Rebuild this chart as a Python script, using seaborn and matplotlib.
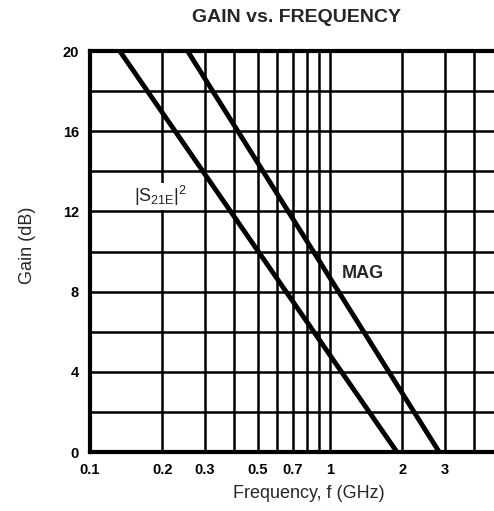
import matplotlib
matplotlib.use("Agg")
import matplotlib.pyplot as plt
from matplotlib.ticker import FixedLocator, FixedFormatter, NullFormatter
import seaborn as sns
import pandas as pd

# values (straight lines on log frequency axis)
s21_freq = [0.133, 1.9]
s21_gain = [20, 0]
mag_freq = [0.255, 2.85]
mag_gain = [20, 0]

x_tick_values = [0.1, 0.2, 0.3, 0.5, 0.7, 1, 2, 3, 5]
x_tick_labels = ["0.1", "0.2", "0.3", "0.5", "0.7", "1", "2", "3", "5"]
x_grid_values = [0.1, 0.2, 0.3, 0.4, 0.5, 0.6, 0.7, 0.8, 0.9,
                 1, 2, 3, 4, 5, 6, 7, 8, 9, 10]
y_tick_values = [0, 4, 8, 12, 16, 20]
y_grid_values = [0, 2, 4, 6, 8, 10, 12, 14, 16, 18, 20]

sns.set_style("white")
plt.rcParams['font.family'] = ['Liberation Sans', 'DejaVu Sans']

df = pd.concat([
    pd.DataFrame({"freq": s21_freq, "gain": s21_gain, "curve": "S21"}),
    pd.DataFrame({"freq": mag_freq, "gain": mag_gain, "curve": "MAG"}),
])

fig = plt.figure(figsize=(4.94, 5.11), dpi=100)
ax = fig.add_axes([90 / 494, 59 / 511, 480 / 494, 401 / 511])

sns.lineplot(data=df, x="freq", y="gain", units="curve", estimator=None,
             color="black", linewidth=3.5, ax=ax, legend=False)

ax.set_xscale("log")
ax.set_xlim(0.1, 10)
ax.set_ylim(0, 20)

ax.xaxis.set_major_locator(FixedLocator(x_tick_values))
ax.xaxis.set_major_formatter(FixedFormatter(x_tick_labels))
ax.xaxis.set_minor_formatter(NullFormatter())
ax.set_yticks(y_tick_values)

for xv in x_grid_values:
    ax.axvline(xv, color="black", linewidth=1.8, zorder=1)
for yv in y_grid_values:
    ax.axhline(yv, color="black", linewidth=1.8, zorder=1)

for sp in ax.spines.values():
    sp.set_linewidth(3)
    sp.set_color("black")

ax.tick_params(axis="both", which="both", length=0, labelsize=10.5,
               colors="black")
ax.tick_params(axis="x", pad=8)
ax.tick_params(axis="y", pad=8)
for lab in ax.get_xticklabels() + ax.get_yticklabels():
    lab.set_fontweight("bold")

ax.set_xlabel("")
ax.set_ylabel("")
fig.text(309 / 494, 1 - 493 / 511, "Frequency, f (GHz)", ha="center",
         va="center", fontsize=13)
fig.text(27 / 494, 1 - 245 / 511, "Gain (dB)", ha="center", va="center",
         rotation=90, fontsize=13)
fig.text(297 / 494, 1 - 18 / 511, "GAIN vs. FREQUENCY", ha="center",
         va="center", fontsize=14, fontweight="bold")

box = dict(facecolor="white", edgecolor="none", pad=1)
ax.text(0.152, 12.75, r"|S$_{\mathregular{21E}}$|$^{\mathregular{2}}$",
        fontsize=13, ha="left", va="center", bbox=box, zorder=3)
ax.text(1.12, 8.9, "MAG", fontsize=13, ha="left", va="center",
        fontweight="bold", bbox=box, zorder=3)

fig.savefig("out.png", dpi=100)
